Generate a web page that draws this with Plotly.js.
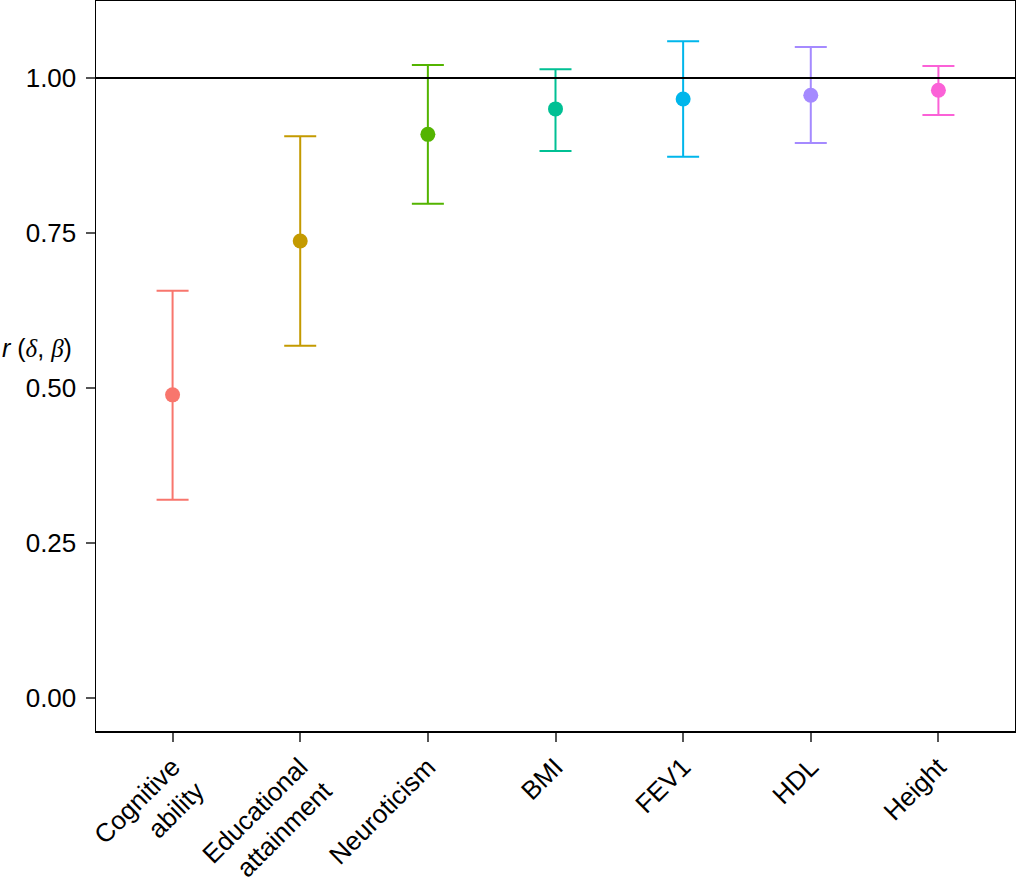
<!DOCTYPE html>
<html>
<head>
<meta charset="utf-8">
<script src="https://cdn.plot.ly/plotly-3.0.1.min.js"></script>
<style>
  body { margin: 0; background: #fff; }
  #chart { width: 1016px; height: 880px; }
</style>
</head>
<body>
<div id="chart"></div>
<script>
// traits in plot order, labels split for the rotated axis
var traits = ["Cognitive<br>ability", "Educational<br>attainment", "Neuroticism", "BMI", "FEV1", "HDL", "Height"];
var rEst = [0.489, 0.737, 0.909, 0.950, 0.966, 0.972, 0.980];
var ciUpper = [0.657, 0.906, 1.021, 1.014, 1.059, 1.050, 1.019];
var ciLower = [0.320, 0.568, 0.797, 0.882, 0.873, 0.895, 0.940];
var colours = ["#F8766D", "#C49A00", "#53B400", "#00C094", "#00B6EB", "#A58AFF", "#FB61D7"];
var yTicks = [0, 0.25, 0.5, 0.75, 1];
var yTickText = ["0.00", "0.25", "0.50", "0.75", "1.00"];

// one trace per trait so each gets its own colour
var data = traits.map(function (t, i) {
  return {
    type: "scatter",
    mode: "markers",
    x: [i],
    y: [rEst[i]],
    marker: { color: colours[i], size: 15 },
    error_y: {
      type: "data",
      symmetric: false,
      array: [ciUpper[i] - rEst[i]],
      arrayminus: [rEst[i] - ciLower[i]],
      color: colours[i],
      thickness: 2,
      width: 16
    },
    showlegend: false,
    hoverinfo: "y"
  };
});

var layout = {
  width: 1016,
  height: 880,
  margin: { l: 96, r: 1, t: 1, b: 149 },
  paper_bgcolor: "#fff",
  plot_bgcolor: "#fff",
  font: { family: "Liberation Sans, Arial, sans-serif", size: 26, color: "#000" },
  xaxis: {
    range: [-0.6, 6.6],
    tickmode: "array",
    tickvals: [0, 1, 2, 3, 4, 5, 6],
    ticktext: traits,
    tickangle: -45,
    ticks: "outside",
    ticklen: 9,
    tickcolor: "#555",
    tickwidth: 2,
    showgrid: false,
    zeroline: false,
    showline: true,
    linecolor: "#000",
    linewidth: 1.5,
    mirror: true,
    tickfont: { size: 26 }
  },
  yaxis: {
    range: [-0.053, 1.124],
    tickmode: "array",
    tickvals: yTicks,
    ticktext: yTickText,
    ticks: "outside",
    ticklen: 9,
    tickcolor: "#555",
    tickwidth: 2,
    ticklabelstandoff: 4,
    showgrid: false,
    zeroline: false,
    showline: true,
    linecolor: "#000",
    linewidth: 1.5,
    mirror: true,
    tickfont: { size: 26 }
  },
  shapes: [{
    type: "line",
    xref: "paper", x0: 0, x1: 1,
    yref: "y", y0: 1, y1: 1,
    line: { color: "#000", width: 2 }
  }],
  annotations: [{
    xref: "paper", yref: "y",
    x: -0.105, y: 0.565,
    xanchor: "left", yanchor: "middle",
    showarrow: false,
    text: "<i>r</i> (<span style=\"font-family:'Liberation Serif', serif\"><i>δ</i></span>, <span style=\"font-family:'Liberation Serif', serif\"><i>β</i></span>)",
    font: { size: 25, color: "#000" }
  }]
};

Plotly.newPlot("chart", data, layout, { displayModeBar: false, staticPlot: true });
</script>
</body>
</html>
